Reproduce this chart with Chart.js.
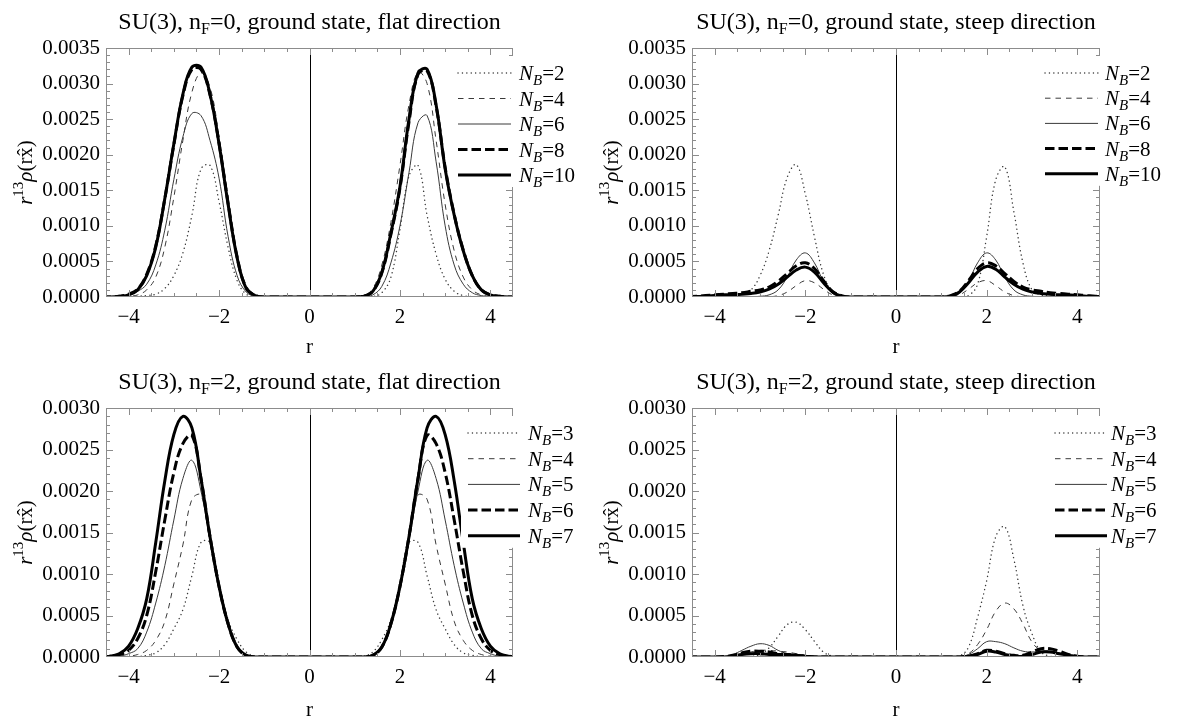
<!doctype html>
<html lang="en">
    <head>
        <meta charset="UTF-8" />
        <title>SU(3) ground state densities</title>
        <style>
            html,
            body {
                margin: 0;
                padding: 0;
                background: #fff;
            }
            body {
                position: relative;
                width: 1181px;
                height: 723px;
                overflow: hidden;
            }
            canvas {
                position: absolute;
            }
        </style>
    </head>

    <body>
        <canvas id="p1" width="590" height="360" style="left: 0; top: 0; width: 590px; height: 360px"></canvas>
        <canvas id="p2" width="591" height="360" style="left: 590px; top: 0; width: 591px; height: 360px"></canvas>
        <canvas id="p3" width="590" height="363" style="left: 0; top: 360px; width: 590px; height: 363px"></canvas>
        <canvas id="p4" width="591" height="363" style="left: 590px; top: 360px; width: 591px; height: 363px"></canvas>

        <script src="https://cdn.jsdelivr.net/npm/chart.js@4.4.1/dist/chart.umd.min.js"></script>

        <script>
            const rGrid = [
                -4.6, -4.4, -4.2, -4.0, -3.8, -3.6, -3.4, -3.2, -3.0, -2.8, -2.6, -2.4, -2.2, -2.0, -1.8, -1.6, -1.4, -1.2, -1.0,
                1.0, 1.2, 1.4, 1.6, 1.8, 2.0, 2.2, 2.4, 2.6, 2.8, 3.0, 3.2, 3.4, 3.6, 3.8, 4.0, 4.2, 4.4, 4.6,
            ];
            // densities below are in units of 1e-4
            const UNIT = 1e-4;

            const nbTop = [2, 4, 6, 8, 10];
            const nbBottom = [3, 4, 5, 6, 7];

            // n_F = 0, flat direction
            const flat0NB2 = [0, 0, 0, 0, 0.1, 0.2, 0.4, 1.2, 3.0, 6.2, 11.5, 18.0, 18.5, 13.4, 7.0, 2.3, 0.4, 0.1, 0,
                0, 0, 0.05, 0.6, 2.8, 9.5, 17.0, 18.5, 11.5, 6.0, 2.5, 0.8, 0.2, 0.05, 0, 0, 0, 0, 0];
            const flat0NB4 = [0, 0, 0, 0.1, 0.3, 1.0, 2.8, 7.0, 14.0, 22.0, 28.8, 31.5, 29.5, 22.5, 14.0, 6.0, 1.4, 0.2, 0,
                0, 0.2, 1.2, 4.5, 10.5, 18.5, 27.0, 31.6, 30.0, 22.0, 13.0, 6.5, 2.8, 1.0, 0.3, 0.1, 0, 0, 0];
            const flat0NB6 = [0, 0, 0.1, 0.3, 0.8, 1.8, 4.5, 9.4, 16.5, 22.5, 25.8, 25.5, 22.0, 16.7, 8.5, 3.0, 0.7, 0.1, 0,
                0, 0.05, 0.3, 1.5, 4.8, 10.0, 17.5, 24.5, 25.5, 19.0, 10.0, 4.5, 1.8, 0.6, 0.2, 0.05, 0, 0, 0];
            const flat0NB8 = [0, 0, 0.1, 0.4, 1.1, 3.2, 7.2, 13.8, 21.4, 28.3, 32.0, 32.0, 28.4, 21.6, 13.2, 5.6, 1.3, 0.2, 0,
                0, 0.1, 0.8, 3.4, 8.8, 15.3, 24.6, 31.3, 31.8, 26.8, 18.2, 11.6, 6.6, 3.0, 1.0, 0.3, 0.1, 0, 0];
            const flat0NB10 = [0, 0, 0.1, 0.3, 1.0, 3.0, 7.0, 13.8, 21.5, 28.5, 32.3, 32.3, 28.5, 21.5, 13.0, 5.5, 1.2, 0.2, 0,
                0, 0.1, 0.8, 3.5, 9.0, 15.5, 25.0, 31.5, 32.0, 27.0, 18.0, 11.5, 6.5, 3.0, 1.0, 0.3, 0.1, 0, 0];

            // n_F = 0, steep direction
            const steep0NB2 = [0, 0.03, 0.05, 0.1, 0.2, 0.3, 0.5, 1.0, 3.0, 6.5, 11.5, 16.8, 18.6, 14.5, 8.5, 3.2, 0.6, 0.1, 0,
                0, 0, 0.02, 0.2, 1.8, 8.5, 16.5, 18.3, 12.0, 4.8, 1.0, 0.3, 0.15, 0.1, 0.05, 0.03, 0.02, 0.01, 0];
            const steep0NB4 = [0, 0, 0, 0, 0, 0, 0, 0, 0, 0.03, 0.2, 0.7, 1.6, 2.3, 2.0, 1.1, 0.3, 0.05, 0,
                0, 0.05, 0.3, 1.1, 2.0, 2.3, 1.6, 0.7, 0.2, 0.03, 0, 0, 0, 0, 0, 0, 0, 0, 0];
            const steep0NB6 = [0, 0, 0, 0, 0, 0, 0.03, 0.05, 0.1, 0.3, 1.0, 2.8, 5.2, 6.2, 4.8, 2.2, 0.5, 0.1, 0,
                0, 0.1, 0.5, 2.2, 4.8, 6.2, 5.2, 2.8, 1.0, 0.3, 0.1, 0.05, 0.03, 0, 0, 0, 0, 0, 0];
            const steep0NB8 = [0.05, 0.1, 0.2, 0.3, 0.4, 0.5, 0.6, 0.8, 1.0, 1.4, 2.2, 3.3, 4.4, 4.8, 4.0, 2.3, 0.8, 0.2, 0,
                0, 0.2, 0.8, 2.3, 4.0, 4.8, 4.4, 3.3, 2.2, 1.4, 1.0, 0.8, 0.6, 0.5, 0.4, 0.3, 0.2, 0.1, 0.05];
            const steep0NB10 = [0.05, 0.08, 0.1, 0.2, 0.3, 0.3, 0.4, 0.5, 0.7, 1.1, 1.8, 2.8, 3.8, 4.2, 3.5, 2.0, 0.7, 0.1, 0,
                0, 0.1, 0.7, 2.0, 3.5, 4.3, 3.9, 2.8, 1.8, 1.1, 0.7, 0.5, 0.4, 0.3, 0.3, 0.2, 0.1, 0.08, 0.05];

            // n_F = 2, flat direction
            const flat2NB3 = [0, 0, 0, 0, 0.05, 0.2, 0.5, 1.5, 3.4, 5.7, 9.8, 13.8, 13.8, 9.0, 4.5, 2.1, 0.6, 0.1, 0,
                0, 0.1, 0.6, 2.1, 4.5, 9.0, 13.8, 13.8, 9.8, 5.7, 3.4, 1.5, 0.5, 0.2, 0.05, 0, 0, 0, 0];
            const flat2NB4 = [0, 0, 0.05, 0.1, 0.3, 0.8, 2.0, 4.3, 8.8, 13.5, 19.0, 19.5, 14.0, 8.2, 3.8, 1.2, 0.2, 0, 0,
                0, 0, 0.2, 1.2, 3.8, 8.2, 14.0, 19.5, 19.0, 13.5, 8.8, 4.3, 2.0, 0.8, 0.3, 0.1, 0.05, 0, 0];
            const flat2NB5 = [0, 0.05, 0.1, 0.4, 1.0, 3.0, 6.5, 11.0, 16.5, 21.5, 23.7, 20.0, 14.0, 8.2, 3.8, 1.1, 0.2, 0, 0,
                0, 0, 0.2, 1.1, 3.8, 8.2, 14.0, 20.0, 23.7, 21.5, 16.5, 11.0, 6.5, 3.0, 1.0, 0.4, 0.1, 0.05, 0];
            const flat2NB6 = [0, 0.1, 0.3, 0.8, 2.2, 5.0, 10.3, 16.5, 22.2, 25.7, 26.7, 21.5, 14.5, 8.5, 4.0, 1.2, 0.2, 0, 0,
                0, 0, 0.2, 1.2, 4.0, 8.5, 14.5, 21.5, 26.7, 25.7, 22.2, 16.5, 10.3, 5.0, 2.2, 0.8, 0.3, 0.1, 0];
            const flat2NB7 = [0, 0.1, 0.4, 1.3, 3.4, 7.0, 13.8, 21.2, 26.8, 29.0, 27.6, 21.5, 14.5, 8.5, 4.0, 1.2, 0.2, 0, 0,
                0, 0, 0.2, 1.2, 4.0, 8.5, 14.5, 21.5, 27.6, 29.0, 26.8, 21.2, 13.8, 7.0, 3.4, 1.3, 0.4, 0.1, 0];

            // n_F = 2, steep direction
            const steep2NB3 = [0, 0, 0, 0, 0, 0, 0, 0.05, 0.3, 1.1, 2.5, 3.9, 4.2, 3.3, 1.9, 0.6, 0.1, 0, 0,
                0, 0, 0.1, 1.2, 4.8, 9.2, 14.5, 15.7, 11.8, 6.2, 2.8, 0.6, 0.1, 0, 0, 0, 0, 0, 0];
            const steep2NB4 = [0, 0, 0, 0, 0, 0.1, 0.3, 0.6, 0.8, 0.8, 0.7, 0.6, 0.4, 0.2, 0.1, 0, 0, 0, 0,
                0, 0, 0.05, 0.4, 1.5, 3.3, 5.5, 6.5, 5.8, 4.0, 1.8, 0.8, 0.7, 0.4, 0.2, 0.1, 0, 0, 0];
            const steep2NB5 = [0, 0, 0, 0, 0.05, 0.3, 0.8, 1.3, 1.6, 1.4, 0.8, 0.4, 0.2, 0.05, 0, 0, 0, 0, 0,
                0, 0, 0.05, 0.3, 1.0, 1.85, 1.85, 1.6, 1.1, 0.7, 0.6, 0.7, 0.7, 0.5, 0.2, 0.05, 0, 0, 0];
            const steep2NB6 = [0, 0, 0, 0, 0.05, 0.2, 0.5, 0.7, 0.7, 0.6, 0.4, 0.3, 0.2, 0.1, 0, 0, 0, 0, 0,
                0, 0, 0, 0.1, 0.4, 0.8, 0.7, 0.4, 0.2, 0.2, 0.6, 1.0, 1.0, 0.7, 0.3, 0.1, 0, 0, 0];
            const steep2NB7 = [0, 0, 0, 0, 0, 0.1, 0.3, 0.4, 0.4, 0.3, 0.3, 0.3, 0.2, 0.1, 0, 0, 0, 0, 0,
                0, 0, 0, 0.1, 0.3, 0.7, 0.6, 0.3, 0.1, 0.1, 0.3, 0.6, 0.6, 0.4, 0.2, 0.05, 0, 0, 0];

            // Mathematica-like line styles, one per N_B in order
            const lineStyles = [
                { borderColor: "#3a3a3a", borderWidth: 1.4, borderDash: [0.1, 4.3], borderCapStyle: "round" },
                { borderColor: "#3a3a3a", borderWidth: 1, borderDash: [5.5, 5] },
                { borderColor: "#3a3a3a", borderWidth: 1, borderDash: [] },
                { borderColor: "#000", borderWidth: 3, borderDash: [9.5, 4] },
                { borderColor: "#000", borderWidth: 3, borderDash: [] },
            ];

            const SERIF = '"Liberation Serif", "Times New Roman", serif';
            const FRAME = "#8c8c8c";

            const panels = [
                {
                    id: "p1", nF: "0", dir: "flat", yMax: 0.0035, nb: nbTop,
                    series: [flat0NB2, flat0NB4, flat0NB6, flat0NB8, flat0NB10],
                    w: 590, h: 360, plot: { l: 106, t: 48, r: 513, b: 297 },
                    legend: { x1: 458, x2: 511, tx: 519, y0: 73, dy: 25.5 },
                },
                {
                    id: "p2", nF: "0", dir: "steep", yMax: 0.0035, nb: nbTop,
                    series: [steep0NB2, steep0NB4, steep0NB6, steep0NB8, steep0NB10],
                    w: 591, h: 360, plot: { l: 102, t: 48, r: 510, b: 297 },
                    legend: { x1: 455, x2: 508, tx: 515, y0: 73, dy: 25.2 },
                },
                {
                    id: "p3", nF: "2", dir: "flat", yMax: 0.003, nb: nbBottom,
                    series: [flat2NB3, flat2NB4, flat2NB5, flat2NB6, flat2NB7],
                    w: 590, h: 363, plot: { l: 106, t: 48, r: 513, b: 297 },
                    legend: { x1: 468, x2: 520, tx: 528, y0: 73, dy: 25.7 },
                },
                {
                    id: "p4", nF: "2", dir: "steep", yMax: 0.003, nb: nbBottom,
                    series: [steep2NB3, steep2NB4, steep2NB5, steep2NB6, steep2NB7],
                    w: 591, h: 363, plot: { l: 102, t: 48, r: 510, b: 297 },
                    legend: { x1: 465, x2: 517, tx: 521, y0: 73, dy: 25.7 },
                },
            ];

            function seg(ctx, x1, y1, x2, y2) {
                ctx.beginPath();
                ctx.moveTo(x1, y1);
                ctx.lineTo(x2, y2);
                ctx.stroke();
            }

            // draws text runs (for sub/superscripts) starting at x, or centred on x
            function drawRuns(ctx, x, y, runs, align) {
                let total = 0;
                runs.forEach((r) => {
                    ctx.font = r.font;
                    r.w = ctx.measureText(r.text).width;
                    total += r.w;
                });
                let cx = align === "center" ? x - total / 2 : x;
                runs.forEach((r) => {
                    ctx.font = r.font;
                    ctx.fillText(r.text, cx, y + (r.dy || 0));
                    cx += r.w;
                });
            }

            function makeDecor(p) {
                return {
                    id: "decor",
                    afterDatasetsDraw(chart) {
                        const { ctx, chartArea: a } = chart;
                        const xs = chart.scales.x;
                        const ys = chart.scales.y;
                        ctx.save();
                        ctx.lineWidth = 1;
                        ctx.setLineDash([]);

                        // axis at r = 0
                        const x0 = Math.round(xs.getPixelForValue(0)) + 0.5;
                        ctx.strokeStyle = "#000";
                        seg(ctx, x0, a.top, x0, a.bottom);

                        // frame with inward ticks
                        ctx.strokeStyle = FRAME;
                        ctx.strokeRect(a.left + 0.5, a.top + 0.5, a.right - a.left - 1, a.bottom - a.top - 1);
                        for (let k = -8; k <= 8; k++) {
                            const px = Math.round(xs.getPixelForValue(k / 2)) + 0.5;
                            const len = k % 4 === 0 ? 7 : 4;
                            seg(ctx, px, a.bottom, px, a.bottom - len);
                            seg(ctx, px, a.top, px, a.top + len);
                        }
                        const nY = Math.round(ys.max / 1e-4);
                        for (let k = 1; k < nY; k++) {
                            const py = Math.round(ys.getPixelForValue(k * 1e-4)) + 0.5;
                            const len = k % 5 === 0 ? 7 : 4;
                            seg(ctx, a.left, py, a.left + len, py);
                            seg(ctx, a.right, py, a.right - len, py);
                        }
                        ctx.restore();
                    },
                    afterDraw(chart) {
                        const { ctx, chartArea: a } = chart;
                        const L = p.legend;
                        ctx.save();
                        ctx.textBaseline = "alphabetic";

                        // legend on a white box
                        ctx.fillStyle = "#fff";
                        ctx.fillRect(L.x1 - 7, a.top + 8, L.tx + 66 - (L.x1 - 7), L.y0 + 4 * L.dy + 12 - (a.top + 8));
                        chart.data.datasets.forEach((ds, i) => {
                            const yy = L.y0 + i * L.dy;
                            ctx.save();
                            ctx.strokeStyle = ds.borderColor;
                            ctx.lineWidth = ds.borderWidth;
                            ctx.setLineDash(ds.borderDash);
                            ctx.lineCap = ds.borderCapStyle || "butt";
                            seg(ctx, L.x1, yy, L.x2, yy);
                            ctx.restore();
                            ctx.fillStyle = "#000";
                            drawRuns(ctx, L.tx, yy + 7, [
                                { text: "N", font: "italic 21px " + SERIF },
                                { text: "B", font: "italic 15px " + SERIF, dy: 5 },
                                { text: "=" + p.nb[i], font: "21px " + SERIF },
                            ]);
                        });

                        // panel title
                        ctx.fillStyle = "#000";
                        drawRuns(ctx, (a.left + a.right) / 2, 29, [
                            { text: "SU(3), n", font: "24px " + SERIF },
                            { text: "F", font: "16px " + SERIF, dy: 5 },
                            { text: "=" + p.nF + ", ground state, " + p.dir + " direction", font: "24px " + SERIF },
                        ], "center");

                        // y axis title
                        ctx.translate(a.left - 74, (a.top + a.bottom) / 2);
                        ctx.rotate(-Math.PI / 2);
                        drawRuns(ctx, 0, 0, [
                            { text: "r", font: "italic 21px " + SERIF },
                            { text: "13", font: "15px " + SERIF, dy: -9 },
                            { text: "\u03c1", font: "italic 21px " + SERIF },
                            { text: "(rx\u0302)", font: "21px " + SERIF },
                        ], "center");
                        ctx.restore();
                    },
                };
            }

            Chart.defaults.font.family = SERIF;
            Chart.defaults.color = "#000";

            panels.forEach((p) => {
                const datasets = p.series.map((ys, i) => ({
                    data: rGrid.map((r, j) => ({ x: r, y: ys[j] * UNIT })),
                    ...lineStyles[i],
                    fill: false,
                    pointRadius: 0,
                    tension: 0.4,
                    order: p.series.length - 1 - i,
                }));

                const tickFont = { family: SERIF, size: 21 };
                new Chart(document.getElementById(p.id), {
                    type: "line",
                    data: { datasets },
                    options: {
                        responsive: false,
                        animation: false,
                        devicePixelRatio: 1,
                        events: [],
                        layout: { padding: { left: 0, top: p.plot.t, right: p.w - p.plot.r, bottom: 0 } },
                        plugins: { legend: { display: false }, tooltip: { enabled: false } },
                        scales: {
                            x: {
                                type: "linear",
                                min: -4.5,
                                max: 4.5,
                                afterFit: (s) => {
                                    s.height = p.h - p.plot.b;
                                },
                                grid: { display: false, drawTicks: false },
                                border: { display: false },
                                ticks: {
                                    stepSize: 2,
                                    includeBounds: false,
                                    autoSkip: false,
                                    maxRotation: 0,
                                    padding: 8,
                                    font: tickFont,
                                    color: "#000",
                                    callback: (v) => (v < 0 ? "\u2212" + -v : String(v)),
                                },
                                title: {
                                    display: true,
                                    text: "r",
                                    font: tickFont,
                                    color: "#000",
                                    padding: { top: 0, bottom: Math.max(0, p.h - 12.6 - 350) },
                                },
                            },
                            y: {
                                min: 0,
                                max: p.yMax,
                                afterFit: (s) => {
                                    s.width = p.plot.l;
                                },
                                grid: { display: false, drawTicks: false },
                                border: { display: false },
                                ticks: {
                                    stepSize: 0.0005,
                                    padding: 6,
                                    font: tickFont,
                                    color: "#000",
                                    callback: (v) => v.toFixed(4),
                                },
                            },
                        },
                    },
                    plugins: [makeDecor(p)],
                });
            });
        </script>
    </body>
</html>
